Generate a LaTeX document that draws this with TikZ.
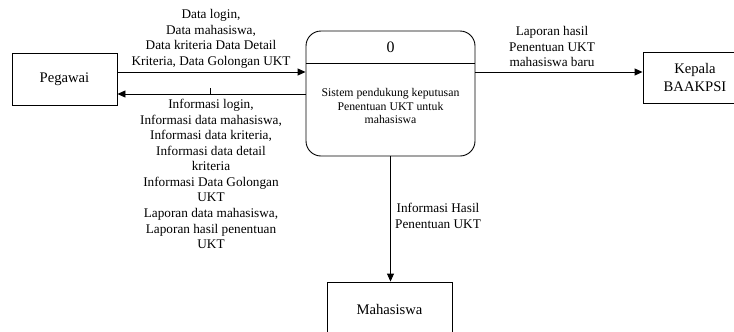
\documentclass[tikz,border=0pt]{standalone}
\usepackage{fontspec}
\setmainfont{Liberation Serif}
\usetikzlibrary{arrows.meta}
\begin{document}
\begin{tikzpicture}[x=1bp,y=-1bp,
  line/.style={draw=black,line width=0.9bp},
  arr/.style={line,-{Triangle[length=8bp,width=7bp]}},
  entity/.style={line,rectangle,inner sep=0pt,font=\fontsize{14.7}{17.5}\selectfont,align=center},
  flow/.style={inner sep=0pt,align=center,font=\fontsize{13.3}{15.6}\selectfont},
  ptext/.style={inner sep=0pt,align=center,font=\fontsize{11.8}{14}\selectfont}]
\useasboundingbox (0,0) rectangle (734,331);
% entities
\node[entity,minimum width=105bp,minimum height=52bp] (peg) at (64.5,79) {Pegawai};
\node[entity,minimum width=104bp,minimum height=51bp] (kep) at (695,77.5) {Kepala\\BAAKPSI};
\node[entity,minimum width=125bp,minimum height=54bp] (mah) at (389.5,309) {Mahasiswa};
% process
\node[line,rounded corners=15bp,minimum width=169bp,minimum height=125bp,inner sep=0pt] (proc) at (390.5,93.5) {};
\node[inner sep=0pt,font=\fontsize{16}{18}\selectfont] (pnum) at (390.5,47) {0};
\coordinate (divl) at (306,63);
\coordinate (divr) at (475,63);
\draw[line] (divl) -- (divr);
\node[ptext] (ptxt) at (390.5,106) {Sistem pendukung keputusan\\Penentuan UKT untuk\\mahasiswa};
% flows
\draw[arr] ([yshift=7bp]peg.east) -- ([yshift=7bp]peg.east -| proc.west);
\draw[arr] ([yshift=-15bp]peg.east -| proc.west) -- ([yshift=-15bp]peg.east);
\draw[arr] ([yshift=5.5bp]kep.west -| proc.east) -- ([yshift=5.5bp]kep.west);
\draw[arr] (proc.south) -- (proc.south |- mah.north);
\coordinate (tka) at (210.5,88);
\coordinate (tkb) at (210.5,94);
\draw[line,line width=0.6bp] (tka) -- (tkb);
% labels
\node[flow] (l1) at (211,39) {Data login,\\Data mahasiswa,\\Data kriteria Data Detail\\Kriteria, Data Golongan UKT};
\node[flow] (l2) at (211,174) {Informasi login,\\Informasi data mahasiswa,\\Informasi data kriteria,\\Informasi data detail\\kriteria\\Informasi Data Golongan\\UKT\\Laporan data mahasiswa,\\Laporan hasil penentuan\\UKT};
\node[flow] (l3) at (552,46.5) {Laporan hasil\\Penentuan UKT\\mahasiswa baru};
\node[flow] (l4) at (438,216) {Informasi Hasil\\Penentuan UKT};
\end{tikzpicture}
\end{document}
